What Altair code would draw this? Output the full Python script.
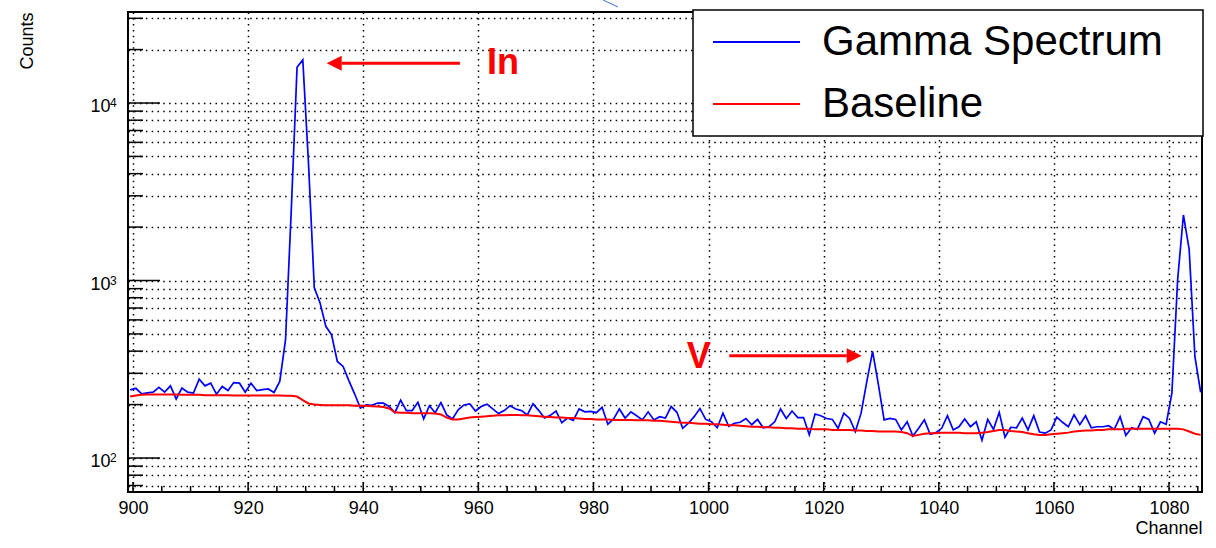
import altair as alt
import pandas as pd

# ---------------- data ----------------
first_channel = 899.5

gamma = [
    242, 247, 230, 233, 235, 250, 235, 255, 215, 248,
    235, 232, 278, 255, 264, 229, 253, 240, 266, 264,
    235, 264, 240, 243, 245, 234, 270, 464, 2500, 15900,
    17500, 4500, 910, 748, 552, 495, 350, 328, 273, 230,
    191, 199, 198, 204, 204, 195, 180, 212, 185, 185,
    206, 166, 197, 180, 205, 175, 166, 187, 199, 202,
    184, 195, 201, 189, 178, 185, 197, 189, 185, 175,
    202, 185, 168, 174, 184, 158, 168, 163, 189, 182,
    183, 180, 193, 155, 166, 189, 168, 182, 173, 164,
    182, 164, 171, 168, 195, 181, 147, 157, 171, 190,
    165, 160, 148, 179, 151, 157, 159, 167, 154, 165,
    148, 150, 160, 189, 167, 184, 169, 169, 135, 177,
    173, 167, 165, 147, 179, 167, 141, 179, 270, 399,
    260, 164, 167, 165, 144, 160, 133, 147, 164, 136,
    139, 147, 173, 144, 150, 166, 150, 160, 126, 165,
    145, 181, 131, 149, 148, 168, 144, 173, 140, 138,
    144, 170, 159, 150, 175, 154, 173, 148, 150, 150,
    152, 145, 171, 134, 148, 145, 171, 165, 138, 160,
    155, 232, 1013, 2340, 1496, 373, 234,
]

baseline = [
    222, 225, 227, 228, 228, 228, 228, 228, 228, 227,
    227, 227, 227, 226, 226, 226, 226, 226, 225, 225,
    225, 225, 225, 225, 225, 225, 225, 224, 224, 222,
    212, 203, 200, 199, 198, 198, 198, 198, 198, 197,
    197, 197, 196, 195, 194, 190, 181, 180, 180, 179,
    179, 179, 179, 178, 176, 169, 165, 165, 167, 169,
    170, 171, 172, 173, 174, 174, 175, 175, 174, 174,
    173, 172, 171, 170, 169, 169, 168, 168, 167, 166,
    166, 165, 165, 165, 164, 164, 164, 164, 163, 163,
    163, 162, 162, 161, 160, 159, 158, 158, 157, 156,
    156, 155, 155, 154, 153, 153, 152, 151, 150, 150,
    149, 149, 148, 148, 147, 147, 146, 146, 146, 145,
    145, 145, 144, 144, 144, 144, 143, 143, 142, 142,
    141, 141, 141, 141, 140, 138, 133, 135, 137, 138,
    138, 139, 139, 139, 139, 138, 138, 138, 139, 140,
    142, 144, 144, 142, 141, 140, 138, 136, 135, 135,
    136, 137, 138, 139, 141, 142, 143, 143, 144, 144,
    145, 145, 145, 146, 146, 146, 146, 146, 146, 146,
    146, 146, 146, 145, 141, 137, 135,
]

channels = [first_channel + i for i in range(len(gamma))]

series_names = ["Gamma Spectrum", "Baseline"]
series_colors = ["#0000ff", "#ff0000"]

x_major = [900, 920, 940, 960, 980, 1000, 1020, 1040, 1060, 1080]
x_minor = [905, 910, 915, 925, 930, 935, 945, 950, 955, 965, 970, 975,
           985, 990, 995, 1005, 1010, 1015, 1025, 1030, 1035, 1045, 1050,
           1055, 1065, 1070, 1075, 1085]
y_major = [100, 1000, 10000]
y_exponents = ["2", "3", "4"]
y_minor = [70, 80, 90, 200, 300, 400, 500, 600, 700, 800, 900,
           2000, 3000, 4000, 5000, 6000, 7000, 8000, 9000, 20000, 30000]

annot_text = ["In", "V"]
annot_x = [964.3, 998.3]
annot_y = [16740, 372]
arrow_tail = [956.8, 1003.6]
arrow_base = [936.25, 1024.0]
arrow_tip = [933.65, 1026.6]
arrow_y = [16740, 377]

# ---------------- layout / style ----------------
W, H = 1074, 480
FONT = "Liberation Sans"
GRID_DASH = [1.5, 4.3]

xscale = alt.Scale(domain=[899.13, 1085.73], nice=False, zero=False)
yscale = alt.Scale(type="log", domain=[64.35, 32560], nice=False)

xaxis = alt.Axis(
    values=x_major, format="d", grid=True, gridColor="black", gridDash=GRID_DASH,
    gridWidth=1.5, gridOpacity=1, ticks=False, domain=False,
    labelFont=FONT, labelFontSize=18, labelColor="black", labelPadding=7,
    labelFlush=False, labelOverlap=False,
    title="Channel", titleFont=FONT, titleFontSize=18, titleFontWeight="normal",
    titleColor="black", titleX=W, titleY=41, titleAlign="right",
    titleBaseline="alphabetic",
)
yaxis = alt.Axis(
    values=sorted(y_major + y_minor), grid=True, gridColor="black", gridDash=GRID_DASH,
    gridWidth=1.5, gridOpacity=1, ticks=False, domain=False,
    labelExpr="datum.value == 100 || datum.value == 1000 || datum.value == 10000 ? '10' : ''",
    labelFont=FONT, labelFontSize=18, labelColor="black", labelPadding=18,
    labelOffset=3.5, labelBaseline="middle", labelOverlap=False, labelFlush=False,
    title="Counts", titleFont=FONT, titleFontSize=18, titleFontWeight="normal",
    titleColor="black", titleAngle=270, titleX=-101, titleY=0, titleAlign="right",
    titleBaseline="middle",
)

xenc = alt.X("channel:Q", scale=xscale, axis=xaxis)
yenc = alt.Y("counts:Q", scale=yscale, axis=yaxis)

df_gamma = pd.DataFrame({"channel": channels, "counts": gamma})
df_base = pd.DataFrame({"channel": channels, "counts": baseline})

line_gamma = alt.Chart(df_gamma).mark_line(
    color=series_colors[0], strokeWidth=1.7, clip=True
).encode(x=xenc, y=yenc)
line_base = alt.Chart(df_base).mark_line(
    color=series_colors[1], strokeWidth=2, clip=True
).encode(x=xenc, y=yenc)

# inward ticks (ROOT style)
xt_major = alt.Chart(pd.DataFrame({"channel": x_major})).mark_rule(
    color="black", strokeWidth=1.5
).encode(x=xenc, y=alt.value(H), y2=alt.value(H - 10))
xt_minor = alt.Chart(pd.DataFrame({"channel": x_minor})).mark_rule(
    color="black", strokeWidth=1.5
).encode(x=xenc, y=alt.value(H), y2=alt.value(H - 6))
yt_major = alt.Chart(pd.DataFrame({"counts": y_major})).mark_rule(
    color="black", strokeWidth=1.5
).encode(y=yenc, x=alt.value(0), x2=alt.value(32))
yt_minor = alt.Chart(pd.DataFrame({"counts": y_minor})).mark_rule(
    color="black", strokeWidth=1.5
).encode(y=yenc, x=alt.value(0), x2=alt.value(15))

# exponents of the 10^n labels
y_exp = alt.Chart(pd.DataFrame({"counts": y_major, "e": y_exponents})).mark_text(
    font=FONT, fontSize=12, color="black", align="left", baseline="alphabetic", dy=4
).encode(y=yenc, x=alt.value(-18), text="e:N")

# annotations
df_arrow = pd.DataFrame({"channel": arrow_tail, "c2": arrow_base, "counts": arrow_y})
arrows = alt.Chart(df_arrow).mark_rule(color="#ff0000", strokeWidth=3).encode(
    x=xenc, x2="c2:Q", y=yenc
)
head_left = alt.Chart(pd.DataFrame({"channel": arrow_tip[:1], "counts": arrow_y[:1]})).mark_point(
    shape="M-1,0L1,-1L1,1Z", filled=True, color="#ff0000", opacity=1, size=225, xOffset=7.5
).encode(x=xenc, y=yenc)
head_right = alt.Chart(pd.DataFrame({"channel": arrow_tip[1:], "counts": arrow_y[1:]})).mark_point(
    shape="M1,0L-1,-1L-1,1Z", filled=True, color="#ff0000", opacity=1, size=225, xOffset=-7.5
).encode(x=xenc, y=yenc)
labels = alt.Chart(pd.DataFrame({"channel": annot_x, "counts": annot_y, "t": annot_text})).mark_text(
    font=FONT, fontSize=36, fontWeight="bold", color="#ff0000", align="center", baseline="middle"
).encode(x=xenc, y=yenc, text="t:N")

# small stray stroke visible above the frame in the reference
stray = alt.Chart(pd.DataFrame({"k": [0]})).mark_rule(
    color="#3a6fd8", strokeWidth=1
).encode(x=alt.value(475), x2=alt.value(490), y=alt.value(-12), y2=alt.value(-5))

# legend box (ROOT TLegend look)
legend_box = alt.Chart(pd.DataFrame({"k": [0]})).mark_rect(
    fill="white", stroke="black", strokeWidth=1.5
).encode(x=alt.value(565), x2=alt.value(1075), y=alt.value(-2), y2=alt.value(124))
legend_rows_y = [30, 92]
legend_layers = []
for name, col, ry in zip(series_names, series_colors, legend_rows_y):
    d = pd.DataFrame({"series": [name]})
    legend_layers.append(
        alt.Chart(d).mark_rule(color=col, strokeWidth=2).encode(
            x=alt.value(585), x2=alt.value(672), y=alt.value(ry)
        )
    )
    legend_layers.append(
        alt.Chart(d).mark_text(
            font=FONT, fontSize=42, color="black", align="left", baseline="middle"
        ).encode(x=alt.value(694), y=alt.value(ry), text="series:N")
    )

chart = alt.layer(
    line_gamma, line_base, xt_major, xt_minor, yt_major, yt_minor, y_exp,
    arrows, head_left, head_right, labels, stray, legend_box, *legend_layers
).properties(
    width=W, height=H,
    padding={"left": 128, "top": 12, "right": 14, "bottom": 56},
    autosize=alt.AutoSizeParams(type="none"),
    background="white",
).configure_view(stroke="black", strokeWidth=2)

chart.save("out.html", embed_options={"renderer": "svg", "actions": False})
